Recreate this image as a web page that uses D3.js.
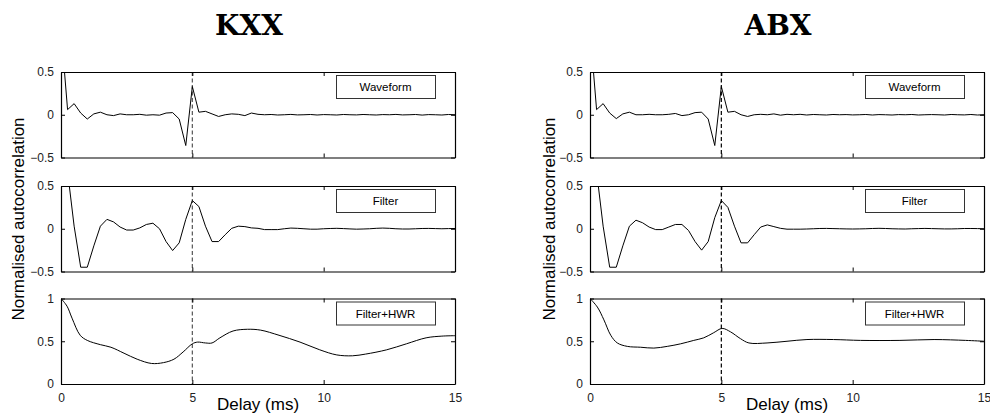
<!DOCTYPE html>
<html><head><meta charset="utf-8">
<script src="https://cdn.jsdelivr.net/npm/d3@7"></script>
<style>
body{margin:0;background:#fff;}
svg{display:block;}
text{font-family:"Liberation Sans",Arial,Helvetica,sans-serif;}
</style></head>
<body><svg id="c" width="990" height="416"></svg>
<script>
// ---------- data ----------
const titles = ["KXX", "ABX"];
const panelNames = ["Waveform", "Filter", "Filter+HWR"];
const sampleStep = 0.25; // ms per sample
const waveformKXX = [1, 0.06, 0.13, 0.02, -0.05, 0.01, 0.03, 0, -0.01, 0.01,
  0, 0, 0.005, -0.005, 0, -0.005, 0.02, 0.025, -0.05, -0.36,
  0.33, 0.03, 0.04, 0.01, -0.02, 0, 0.01, 0.005, -0.01, 0.02,
  0.005, 0, 0.003, -0.003, 0, 0.004, -0.002, 0, 0.003, -0.003,
  0.002, 0, -0.003, 0.003, 0, -0.002, 0.003, 0, -0.003, 0.002,
  0, 0.004, -0.002, 0, 0.003, -0.004, 0.002, 0, -0.003, 0.003, 0];
const waveformABX = [1, 0.06, 0.13, 0.02, -0.045, 0.01, 0.03, 0, 0, 0.005,
  0, 0, 0.005, 0.015, -0.01, 0, 0.025, 0.03, -0.05, -0.36,
  0.33, 0.03, 0.04, 0, -0.02, 0, 0.005, 0, 0.01, -0.005,
  0.005, 0, 0.005, -0.003, 0.003, 0, -0.003, 0.003, 0, 0.002,
  -0.002, 0, 0.003, -0.003, 0.002, 0, -0.003, 0.002, 0, 0.003,
  -0.003, 0, 0.002, 0, -0.003, 0.003, 0, -0.002, 0.003, -0.003, 0];
const filterKXX = [1, 0.67, 0.03, -0.45, -0.45, -0.2, 0.03, 0.11, 0.08, 0.02,
  -0.015, -0.015, 0.01, 0.05, 0.065, 0, -0.15, -0.255, -0.165, 0.11,
  0.33, 0.26, 0.03, -0.15, -0.15, -0.07, 0.005, 0.03, 0.025, 0.01,
  0.005, -0.01, -0.01, -0.01, 0, 0.008, 0.005, 0, -0.005, -0.005,
  0, 0.003, 0.005, 0.002, -0.002, -0.005, -0.003, 0, 0.005, 0.008,
  0.005, 0, -0.003, -0.003, 0, 0.003, 0.004, 0.002, 0, 0.002, 0.003];
const filterABX = [1, 0.67, 0.03, -0.45, -0.45, -0.2, 0.03, 0.1, 0.07, 0.02,
  -0.01, -0.01, 0.02, 0.05, 0.05, -0.02, -0.15, -0.25, -0.15, 0.13,
  0.33, 0.25, 0.03, -0.165, -0.165, -0.07, 0.02, 0.045, 0.025, 0.005,
  -0.005, -0.005, -0.005, -0.003, 0, 0.003, 0.004, 0.002, 0, -0.002,
  -0.003, -0.002, 0, 0.003, 0.005, 0.003, 0, -0.002, -0.003, 0,
  0.002, 0.004, 0.002, 0, -0.002, -0.002, 0, 0.003, 0.003, 0.002, 0];
const hwrDelayKXX = [0, 0.23, 0.42, 0.73, 1.0, 1.5, 1.9, 2.4, 2.9, 3.45, 3.9, 4.3, 4.65, 5.0, 5.2, 5.5,
  5.75, 6.05, 6.55, 7.1, 7.6, 8.3, 9.1, 9.85, 10.5, 11.1, 11.6, 12.4, 13.15, 13.9, 14.5, 15];
const hwrKXX = [1.0, 0.91, 0.77, 0.57, 0.51, 0.46, 0.43, 0.36, 0.29, 0.24, 0.25, 0.29, 0.375, 0.47, 0.49, 0.48,
  0.48, 0.54, 0.62, 0.64, 0.63, 0.57, 0.49, 0.40, 0.34, 0.33, 0.35, 0.40, 0.47, 0.54, 0.56, 0.565];
const hwrDelayABX = [0, 0.28, 0.53, 0.79, 1.04, 1.42, 1.93, 2.43, 2.94, 3.45, 3.95, 4.33, 4.71, 5.03, 5.35,
  5.73, 6.05, 6.74, 7.5, 8.26, 9.27, 10.3, 11.8, 13.1, 14.3, 15];
const hwrABX = [1.0, 0.9, 0.75, 0.57, 0.48, 0.44, 0.43, 0.42, 0.44, 0.47, 0.51, 0.54, 0.6, 0.65, 0.61,
  0.53, 0.48, 0.48, 0.5, 0.52, 0.52, 0.51, 0.51, 0.52, 0.51, 0.5];
const xTicks = [0, 5, 10, 15];
const yTicksSigned = [-0.5, 0, 0.5];
const yTicksHwr = [0, 0.5, 1];
const markerDelay = 5;

// ---------- layout ----------
const svg = d3.select("#c");
const colLeft = [61, 590];
const plotW = 394;
const rowTop = [72, 186, 298.5];
const plotH = 85.5;
const dashColor = ["#555", "#000"];
const yLabelX = [24, 555];

function toPts(arr){ return arr.map((v,i)=>({x:i*sampleStep, y:v})); }
const columns = [
  {title: titles[0], series: [toPts(waveformKXX), toPts(filterKXX), hwrDelayKXX.map((d,i)=>({x:d,y:hwrKXX[i]}))]},
  {title: titles[1], series: [toPts(waveformABX), toPts(filterABX), hwrDelayABX.map((d,i)=>({x:d,y:hwrABX[i]}))]}
];

columns.forEach((col, ci) => {
  const x0 = colLeft[ci];
  const x = d3.scaleLinear().domain([0, 15]).range([x0, x0 + plotW]);
  svg.append("text").attr("x", ci === 0 ? 249 : 778).attr("y", 35)
    .attr("text-anchor", "middle").style("font-family", "'DejaVu Serif',serif")
    .style("font-weight", "bold").style("font-size", "28px").text(col.title);
  svg.append("text")
    .attr("transform", `translate(${yLabelX[ci]},219) rotate(-90)`)
    .attr("text-anchor", "middle").style("font-size", "17px").text("Normalised autocorrelation");

  col.series.forEach((pts, ri) => {
    const top = rowTop[ri];
    const isHwr = ri === 2;
    const y = d3.scaleLinear().domain(isHwr ? [0, 1] : [-0.5, 0.5]).range([top + plotH, top]);
    const g = svg.append("g");
    const clipId = `clip${ci}${ri}`;
    g.append("clipPath").attr("id", clipId).append("rect")
      .attr("x", x0).attr("y", top).attr("width", plotW).attr("height", plotH);

    // dashed marker
    g.append("line").attr("x1", x(markerDelay)).attr("x2", x(markerDelay))
      .attr("y1", top).attr("y2", top + plotH)
      .attr("stroke", dashColor[ci]).attr("stroke-width", 1.2).attr("stroke-dasharray", "4,2.5");

    // data line
    const line = d3.line().x(d => x(d.x)).y(d => y(d.y))
      .curve(isHwr ? d3.curveCatmullRom.alpha(0.5) : d3.curveLinear);
    g.append("path").datum(pts).attr("clip-path", `url(#${clipId})`)
      .attr("d", line).attr("fill", "none").attr("stroke", "#000").attr("stroke-width", 1);

    // axes (inward ticks, box)
    const yt = isHwr ? yTicksHwr : yTicksSigned;
    const axL = d3.axisLeft(y).tickValues(yt).tickSizeInner(-4).tickSizeOuter(0).tickPadding(7)
      .tickFormat(d3.format("~g"));
    const gl = g.append("g").attr("transform", `translate(${x0},0)`).call(axL);
    const axR = d3.axisRight(y).tickValues(yt).tickSizeInner(-4).tickSizeOuter(0).tickFormat("");
    const gr = g.append("g").attr("transform", `translate(${x0 + plotW},0)`).call(axR);
    const axB = d3.axisBottom(x).tickValues(xTicks).tickSizeInner(-4).tickSizeOuter(0).tickPadding(9)
      .tickFormat(isHwr ? d3.format("d") : "");
    const gb = g.append("g").attr("transform", `translate(0,${top + plotH})`).call(axB);
    const axT = d3.axisTop(x).tickValues(xTicks).tickSizeInner(-4).tickSizeOuter(0).tickFormat("");
    const gt = g.append("g").attr("transform", `translate(0,${top})`).call(axT);
    [gl, gr, gb, gt].forEach(a => {
      a.selectAll("text").style("font-size", "12px").attr("fill", "#222");
      a.select(".domain").attr("stroke", "#000").attr("stroke-width", 1.2);
      a.selectAll(".tick line").attr("stroke", "#000");
    });

    // legend box
    const bw = 99, bh = 23;
    const bx = x0 + plotW - 20 - bw, by = top + 3;
    g.append("rect").attr("x", bx + 0.5).attr("y", by + 0.5).attr("width", bw).attr("height", bh)
      .attr("fill", "#fff").attr("stroke", "#333").attr("stroke-width", 1);
    g.append("text").attr("x", bx + bw / 2).attr("y", by + bh / 2 + 4.5).attr("text-anchor", "middle")
      .style("font-size", "11.5px").text(panelNames[ri]);
  });

  svg.append("text").attr("x", x0 + plotW / 2).attr("y", 410).attr("text-anchor", "middle")
    .style("font-size", "17px").text("Delay (ms)");
});
</script></body></html>
